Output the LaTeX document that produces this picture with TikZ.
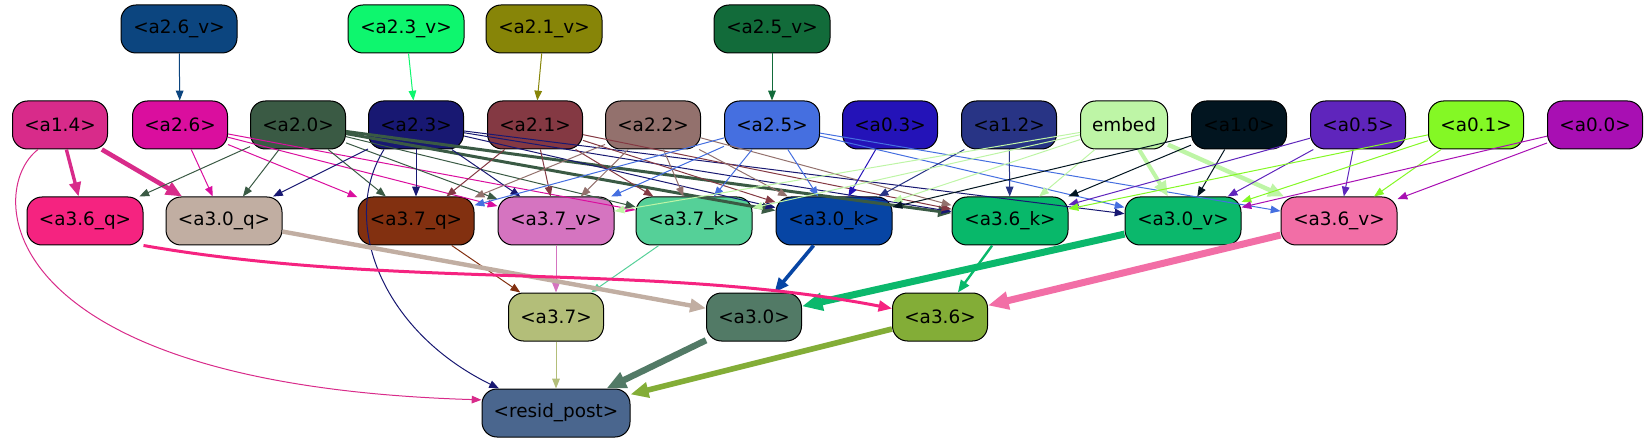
\documentclass[tikz,border=0pt]{standalone}
\usepackage{fontspec}
\setmainfont{DejaVu Sans}
\usetikzlibrary{arrows.meta}
\definecolor{ca26v}{HTML}{0C457F}
\definecolor{ca23v}{HTML}{0EF66E}
\definecolor{ca21v}{HTML}{878508}
\definecolor{ca25v}{HTML}{126B3A}
\definecolor{ca14}{HTML}{D82B8A}
\definecolor{ca26}{HTML}{DA0E9E}
\definecolor{ca20}{HTML}{3A5A44}
\definecolor{ca23}{HTML}{181872}
\definecolor{ca21}{HTML}{843943}
\definecolor{ca22}{HTML}{93716D}
\definecolor{ca25}{HTML}{456FE0}
\definecolor{ca03}{HTML}{2413B8}
\definecolor{ca12}{HTML}{283485}
\definecolor{cembed}{HTML}{BEF5A6}
\definecolor{ca10}{HTML}{021520}
\definecolor{ca05}{HTML}{5F25BC}
\definecolor{ca01}{HTML}{84F825}
\definecolor{ca00}{HTML}{A80FB3}
\definecolor{ca36q}{HTML}{F52380}
\definecolor{ca30q}{HTML}{C1AEA2}
\definecolor{ca37q}{HTML}{823010}
\definecolor{ca37v}{HTML}{D574C0}
\definecolor{ca37k}{HTML}{55D098}
\definecolor{ca30k}{HTML}{0745A4}
\definecolor{ca36k}{HTML}{08B86A}
\definecolor{ca30v}{HTML}{0BB86C}
\definecolor{ca36v}{HTML}{F26EA6}
\definecolor{ca37}{HTML}{B3BE79}
\definecolor{ca30}{HTML}{527A66}
\definecolor{ca36}{HTML}{83AD37}
\definecolor{cresid}{HTML}{4A668E}

\begin{document}
\begin{tikzpicture}[
    x=0.5pt, y=-0.5pt,
    >={Triangle[length=4pt 1.8,width=3pt 1.6]},
    every node/.style={font=\fontsize{9.2}{11}\selectfont},
    box/.style={
        draw=black,
        line width=0.5pt,
        rounded corners=7.5pt,
        minimum height=24pt,
        minimum width=47.5pt,
        inner sep=0pt
    },
    wide/.style={box, minimum width=58pt},
    conn/.style={->, line width=#1},
    conn/.default=0.5pt
]
\useasboundingbox (0,0) rectangle (1648,443);

% inputs
\node[wide, fill=ca26v] (a26v) at (179,29) {<a2.6\_v>};
\node[wide, fill=ca23v] (a23v) at (406,29) {<a2.3\_v>};
\node[wide, fill=ca21v] (a21v) at (544,29) {<a2.1\_v>};
\node[wide, fill=ca25v] (a25v) at (772,29) {<a2.5\_v>};

\node[box, fill=ca14] (a14) at (60,125) {<a1.4>};
\node[box, fill=ca26] (a26) at (180,125) {<a2.6>};
\node[box, fill=ca20] (a20) at (298,125) {<a2.0>};
\node[box, fill=ca23] (a23) at (416,125) {<a2.3>};
\node[box, fill=ca21] (a21) at (535,125) {<a2.1>};
\node[box, fill=ca22] (a22) at (653,125) {<a2.2>};
\node[box, fill=ca25] (a25) at (772,125) {<a2.5>};
\node[box, fill=ca03] (a03) at (890,125) {<a0.3>};
\node[box, fill=ca12] (a12) at (1009,125) {<a1.2>};
\node[box, fill=cembed, minimum width=43.5pt] (embed) at (1124,125) {embed};
\node[box, fill=ca10] (a10) at (1239,125) {<a1.0>};
\node[box, fill=ca05] (a05) at (1358,125) {<a0.5>};
\node[box, fill=ca01] (a01) at (1476,125) {<a0.1>};
\node[box, fill=ca00] (a00) at (1595,125) {<a0.0>};

% layer 3 parts
\node[wide, fill=ca36q] (a36q) at (85,221) {<a3.6\_q>};
\node[wide, fill=ca30q] (a30q) at (224,221) {<a3.0\_q>};
\node[wide, fill=ca37q] (a37q) at (416,221) {<a3.7\_q>};
\node[wide, fill=ca37v] (a37v) at (556,221) {<a3.7\_v>};
\node[wide, fill=ca37k] (a37k) at (694,221) {<a3.7\_k>};
\node[wide, fill=ca30k] (a30k) at (834,221) {<a3.0\_k>};
\node[wide, fill=ca36k] (a36k) at (1010,221) {<a3.6\_k>};
\node[wide, fill=ca30v] (a30v) at (1183,221) {<a3.0\_v>};
\node[wide, fill=ca36v] (a36v) at (1339,221) {<a3.6\_v>};

\node[box, fill=ca37] (a37) at (556,317) {<a3.7>};
\node[box, fill=ca30] (a30) at (754,317) {<a3.0>};
\node[box, fill=ca36] (a36) at (940,317) {<a3.6>};

\node[box, fill=cresid, minimum width=74pt] (resid) at (556,413) {<resid\_post>};

% top row
\draw[conn, ca26v] (a26v) -- (a26);
\draw[conn, ca23v] (a23v) -- (a23);
\draw[conn, ca21v] (a21v) -- (a21);
\draw[conn, ca25v] (a25v) -- (a25);

% a1.4
\draw[conn=1.7pt, ca14] (a14) -- (a36q);
\draw[conn=2.3pt, ca14] (a14) -- (a30q);
\draw[conn, ca14] ([xshift=-11pt]a14.south) .. controls (-15,190) and (-10,385) .. (resid.170);

% a2.6
\draw[conn, ca26] (a26) -- (a30q);
\draw[conn, ca26] (a26) -- (a37q);
\draw[conn, ca26] (a26) -- (a37v);
\draw[conn, ca26] (a26) -- (a37k);

% a2.0
\draw[conn, ca20] (a20) -- (a36q);
\draw[conn, ca20] (a20) -- (a30q);
\draw[conn, ca20] (a20) -- (a37q);
\draw[conn, ca20] (a20) -- (a37v);
\draw[conn, ca20] (a20) -- (a37k);
\draw[conn=1.5pt, ca20] (a20) -- (a30k);
\draw[conn=1.5pt, ca20] (a20) -- (a36k);

% a2.3
\draw[conn, ca23] (a23) -- (a30q);
\draw[conn, ca23] (a23) -- (a37q);
\draw[conn, ca23] (a23) -- (a37v);
\draw[conn, ca23] (a23) -- (a30k);
\draw[conn, ca23] (a23) -- (a36k);
\draw[conn, ca23] (a23) -- (a30v);
\draw[conn, ca23] ([xshift=-16pt]a23.south) .. controls (340,220) and (380,330) .. ([xshift=-28.5pt]resid.north);

% a2.1
\draw[conn, ca21] (a21) -- (a37q);
\draw[conn, ca21] (a21) -- (a37v);
\draw[conn, ca21] (a21) -- (a37k);
\draw[conn, ca21] (a21) -- (a30k);
\draw[conn, ca21] (a21) -- (a36k);

% a2.2
\draw[conn, ca22] (a22) -- (a37q);
\draw[conn, ca22] (a22) -- (a37v);
\draw[conn, ca22] (a22) -- (a37k);
\draw[conn, ca22] (a22) -- (a30k);
\draw[conn, ca22] (a22) -- (a36k);

% a2.5
\draw[conn, ca25] (a25) -- (a37q);
\draw[conn, ca25] (a25) -- (a37v);
\draw[conn, ca25] (a25) -- (a37k);
\draw[conn, ca25] (a25) -- (a30k);
\draw[conn, ca25] (a25) -- (a30v);
\draw[conn, ca25] (a25) -- (a36v);

% right side inputs
\draw[conn, ca03] (a03) -- (a30k);
\draw[conn, ca12] (a12) -- (a30k);
\draw[conn, ca12] (a12) -- (a36k);
\draw[conn, cembed] (embed) -- (a37v);
\draw[conn, cembed] (embed) -- (a37k);
\draw[conn, cembed] (embed) -- (a30k);
\draw[conn, cembed] (embed) -- (a36k);
\draw[conn=2pt, cembed] (embed) -- (a30v);
\draw[conn=2.2pt, cembed] (embed) -- (a36v);
\draw[conn, ca10] (a10) -- (a30k);
\draw[conn, ca10] (a10) -- (a36k);
\draw[conn, ca10] (a10) -- (a30v);
\draw[conn, ca05] (a05) -- (a36k);
\draw[conn, ca05] (a05) -- (a30v);
\draw[conn, ca05] (a05) -- (a36v);
\draw[conn, ca01] (a01) -- (a36k);
\draw[conn, ca01] (a01) -- (a30v);
\draw[conn, ca01] (a01) -- (a36v);
\draw[conn, ca00] (a00) -- (a30v);
\draw[conn, ca00] (a00) -- (a36v);

% layer 3 to layer 4
\draw[conn, ca37q] (a37q) -- (a37);
\draw[conn, ca37v] (a37v) -- (a37);
\draw[conn, ca37k] (a37k) -- (a37);
\draw[conn=2.2pt, ca30q] (a30q) -- (a30);
\draw[conn=1.8pt, ca30k] (a30k) -- (a30);
\draw[conn=3.5pt, ca30v] (a30v) -- (a30);
\draw[conn=1.5pt, ca36q] (a36q.south east) .. controls (400,290) and (650,262) .. (a36.170);
\draw[conn=1.2pt, ca36k] (a36k) -- (a36);
\draw[conn=3.5pt, ca36v] (a36v) -- (a36);

% output
\draw[conn, ca37] (a37) -- (resid);
\draw[conn=3.2pt, ca30] (a30) -- (resid);
\draw[conn=2.8pt, ca36] (a36) -- (resid);

\end{tikzpicture}
\end{document}
